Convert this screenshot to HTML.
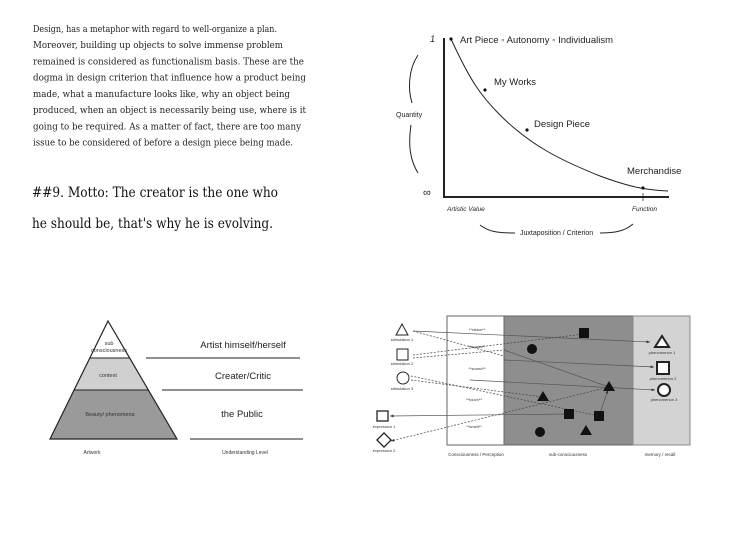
<!DOCTYPE html>
<html><head><meta charset="utf-8"><style>
html,body{margin:0;padding:0;background:#fff;}
svg{display:block}
.s{font-family:"Liberation Sans",sans-serif}
.t{font-family:"DejaVu Serif","Liberation Serif",serif;font-size:9.3px;fill:#222}
.m{font-family:"DejaVu Serif","Liberation Serif",serif;font-size:14px;fill:#111}
</style></head><body>
<svg width="740" height="553" viewBox="0 0 740 553" xmlns="http://www.w3.org/2000/svg">
<defs><marker id="a" markerWidth="5" markerHeight="4" refX="5" refY="2" orient="auto"><path d="M0,0 L5,2 L0,4z" fill="#333"/></marker></defs>
<!-- paragraph -->
<g class="t">
<text x="33" y="32" textLength="244" lengthAdjust="spacingAndGlyphs">Design, has a metaphor with regard to well-organize a plan.</text>
<text x="33" y="48" textLength="250" lengthAdjust="spacingAndGlyphs">Moreover, building up objects to solve immense problem</text>
<text x="33" y="64.5" textLength="271" lengthAdjust="spacingAndGlyphs">remained is considered as functionalism basis. These are the</text>
<text x="33" y="80.5" textLength="273" lengthAdjust="spacingAndGlyphs">dogma in design criterion that influence  how a product being</text>
<text x="33" y="97" textLength="257" lengthAdjust="spacingAndGlyphs">made, what a manufacture looks like, why an object being</text>
<text x="33" y="113" textLength="273" lengthAdjust="spacingAndGlyphs">produced, when an object is necessarily being use, where is it</text>
<text x="33" y="129.5" textLength="268" lengthAdjust="spacingAndGlyphs">going to be required.  As a matter of fact, there are too many</text>
<text x="33" y="145.5" textLength="260" lengthAdjust="spacingAndGlyphs">issue to be considered of before a design piece being made.</text>
</g>
<text class="m" x="32" y="197" textLength="246" lengthAdjust="spacingAndGlyphs">##9. Motto:  The creator is the one  who</text>
<text class="m" x="32" y="228" textLength="241" lengthAdjust="spacingAndGlyphs">he should be, that's why he is evolving.</text>

<!-- graph -->
<g stroke="#222" fill="none">
<line x1="444" y1="38" x2="444" y2="197" stroke-width="2"/>
<line x1="443" y1="197" x2="669" y2="197" stroke-width="2"/>
<line x1="643" y1="193" x2="643" y2="201" stroke-width="0.7"/>
<path d="M451,39 C470,80 480,95 500,115 C530,145 560,160 600,176 C630,187 645,190 668,191" stroke-width="1"/>
<path d="M418,55 C408,70 408,90 412,103" stroke-width="1"/>
<path d="M411,125 C408,145 410,160 418,173" stroke-width="1"/>
<path d="M480,225 C488,231 495,233 515,233" stroke-width="1"/>
<path d="M600,233 C615,233 625,231 633,224" stroke-width="1"/>
</g>
<g fill="#111"><circle cx="451" cy="39" r="1.6"/><circle cx="485" cy="90" r="1.6"/><circle cx="527" cy="130" r="1.6"/><circle cx="643" cy="188" r="1.6"/></g>
<g class="s" fill="#222">
<text x="430" y="42" font-size="9" font-style="italic">1</text>
<text x="460" y="43" font-size="9.5">Art Piece  ◦ Autonomy  ◦ Individualism</text>
<text x="494" y="85" font-size="9.5">My Works</text>
<text x="534" y="127" font-size="9.5">Design Piece</text>
<text x="627" y="174" font-size="9.5">Merchandise</text>
<text x="396" y="117" font-size="7">Quantity</text>
<text x="423" y="196" font-size="11">∞</text>
<text x="447" y="211" font-size="6.5" font-style="italic">Artistic Value</text>
<text x="632" y="211" font-size="6.5" font-style="italic">Function</text>
<text x="520" y="235" font-size="7">Juxtaposition / Criterion</text>
</g>

<!-- pyramid -->
<polygon points="89.8,358 129.6,358 148.4,390 74.1,390" fill="#d0d0d0"/>
<polygon points="74.1,390 148.4,390 177,439 50,439" fill="#9a9a9a"/>
<polygon points="108,321 50,439 177,439" fill="none" stroke="#222" stroke-width="1.2"/>
<line x1="89.8" y1="358" x2="129.6" y2="358" stroke="#222"/>
<line x1="74.1" y1="390" x2="148.4" y2="390" stroke="#222"/>
<g class="s" fill="#333" font-size="5.5" text-anchor="middle">
<text x="109" y="345">sub</text><text x="109" y="352">consciousness</text>
<text x="108" y="377">context</text>
<text x="110" y="416">Beauty/ phenomena</text>
<text x="92" y="454" font-size="5">Artwork</text>
<text x="245" y="454" font-size="5">Understanding Level</text>
</g>
<g stroke="#222" stroke-width="1"><line x1="146" y1="358" x2="300" y2="358"/><line x1="162" y1="390" x2="303" y2="390"/><line x1="190" y1="439" x2="303" y2="439"/></g>
<g class="s" fill="#222" font-size="9.5" text-anchor="middle">
<text x="243" y="348">Artist himself/herself</text>
<text x="243" y="379">Creater/Critic</text>
<text x="242" y="417">the Public</text>
</g>

<!-- right diagram -->
<rect x="447" y="316" width="57" height="129" fill="#fff" stroke="#666"/>
<rect x="504" y="316" width="129" height="129" fill="#8e8e8e" stroke="#666"/>
<rect x="633" y="316" width="57" height="129" fill="#d3d3d3" stroke="#888"/>
<g stroke="#444" stroke-width="0.7" fill="none" stroke-dasharray="2,1.5">
<line x1="413" y1="331" x2="504" y2="356"/>
<line x1="413" y1="355" x2="584" y2="334"/>
<line x1="413" y1="358" x2="504" y2="350"/>
<line x1="411" y1="376" x2="599" y2="416"/>
<line x1="411" y1="380" x2="543" y2="397"/>
<line x1="609" y1="387" x2="391" y2="441" marker-end="url(#a)"/>
</g>
<g stroke="#555" stroke-width="0.7" fill="none">
<line x1="413" y1="331" x2="650" y2="342" marker-end="url(#a)"/>
<line x1="504" y1="360" x2="654" y2="367" marker-end="url(#a)"/>
<line x1="470" y1="380" x2="655" y2="390" marker-end="url(#a)"/>
<line x1="504" y1="350" x2="609" y2="387"/>
<line x1="569" y1="414" x2="390" y2="416" marker-end="url(#a)"/>
<line x1="599" y1="416" x2="608" y2="390" marker-end="url(#a)"/>
</g>
<g fill="#111">
<rect x="579" y="328" width="10" height="10"/>
<circle cx="532" cy="349" r="5"/>
<polygon points="543,391 549,401 537,401"/>
<rect x="564" y="409" width="10" height="10"/>
<rect x="594" y="411" width="10" height="10"/>
<polygon points="609,381 615,391 603,391"/>
<circle cx="540" cy="432" r="5"/>
<polygon points="586,425 592,435 580,435"/>
</g>
<g fill="#fff" stroke="#222">
<polygon points="402,324 408,335 396,335" stroke-width="1"/>
<rect x="397" y="349" width="11" height="11"/>
<circle cx="403" cy="378" r="6"/>
<rect x="377" y="411" width="11" height="10" stroke-width="1.3"/>
<rect x="379" y="435" width="10" height="10" transform="rotate(45 384 440)" stroke-width="1.3"/>
<polygon points="662,336 669,347 655,347" stroke-width="2"/>
<rect x="657" y="362" width="12" height="12" stroke-width="2"/>
<circle cx="664" cy="390" r="6" stroke-width="2"/>
</g>
<g class="s" fill="#333" font-size="4" text-anchor="middle">
<text x="402" y="341">stimulation 1</text>
<text x="402" y="365">stimulation 2</text>
<text x="402" y="390">stimulation 3</text>
<text x="384" y="428">expression 1</text>
<text x="384" y="452">expression 2</text>
<text x="662" y="354">phenomenon 1</text>
<text x="663" y="380">phenomenon 2</text>
<text x="664" y="401">phenomenon 3</text>
<text x="477" y="331">**vision**</text>
<text x="477" y="348">**sound**</text>
<text x="477" y="370">**sound**</text>
<text x="474" y="401">**touch**</text>
<text x="474" y="428">**smell**</text>
<text x="476" y="456" font-size="4.5">Consciousness / Perception</text>
<text x="568" y="456" font-size="4.5">sub-consciousness</text>
<text x="660" y="456" font-size="4.5">memory / recall</text>
</g>
</svg>
</body></html>
